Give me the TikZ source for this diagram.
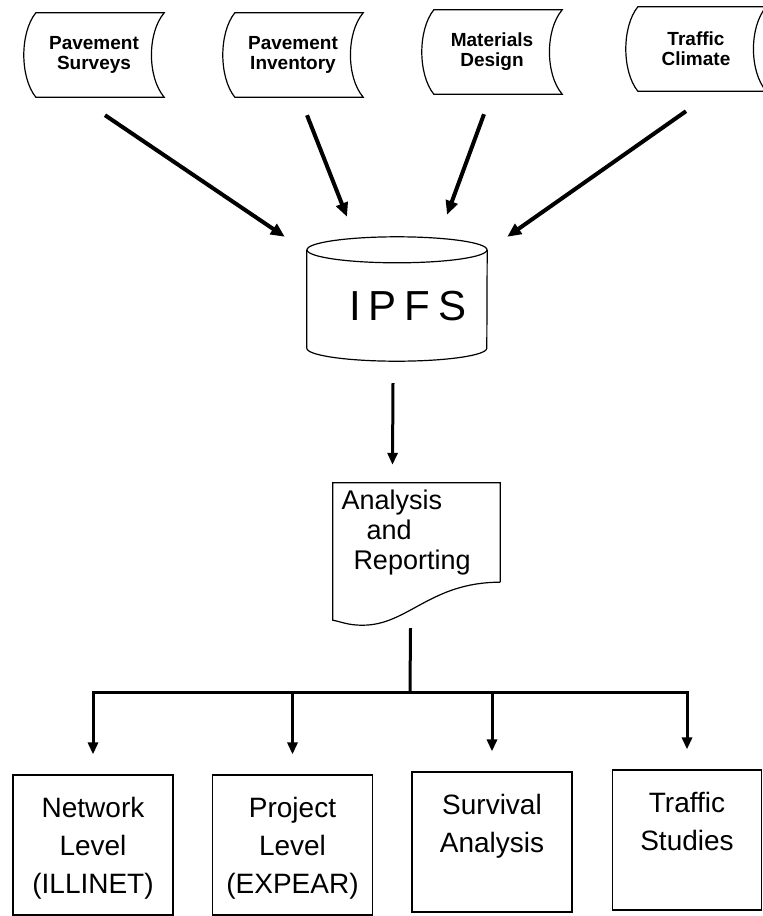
\documentclass[tikz,border=0pt]{standalone}
\usepackage{fontspec}
\setmainfont{Liberation Sans}
\usetikzlibrary{arrows.meta,calc}

\tikzset{
  outline/.style={line width=1.2pt},
  inbox/.style={minimum width=140pt, minimum height=84pt, inner sep=0pt, align=center,
    font=\bfseries\fontsize{19}{20}\selectfont},
  dbnode/.style={minimum width=180pt, minimum height=98pt, inner sep=0pt,
    text height=42pt, text depth=0pt, font=\fontsize{42}{42}\selectfont},
  docnode/.style={minimum width=167pt, minimum height=99pt, inner sep=0pt, align=left,
    text width=150pt, font=\fontsize{27}{30}\selectfont},
  outbox/.style={draw, outline, inner sep=0pt, font=\fontsize{28}{38}\selectfont},
  feed/.style={line width=4pt, -{Triangle[length=14pt,width=12pt]}},
  link/.style={line width=3pt, -{Triangle[length=12pt,width=10pt]}},
  bus/.style={line width=3pt},
  drop/.style={bus, -{Triangle[length=12pt,width=10pt]}, shorten >=20pt},
}

% outline of an input file (bulged left side, hollow right side)
\newcommand{\tapeoutline}[1]{%
  \draw[outline] ([xshift=12pt]#1.north west) -- (#1.north east)
    .. controls +(-17,20) and +(-17,-20) .. (#1.south east)
    -- ([xshift=12pt]#1.south west)
    .. controls +(-16,-20) and +(-16,20) .. ([xshift=12pt]#1.north west) -- cycle;}

% text hung from the top of an output box
\newcommand{\boxtext}[2][160pt]{\parbox[c][140pt][t]{#1}{\centering\vspace*{22pt}#2}}

\begin{document}
\begin{tikzpicture}[x=1pt, y=-1pt]
  \useasboundingbox (0,0) rectangle (763,916);

  % Input files along the top
  \foreach \name/\x/\y/\txt in {inps/94/55/{Pavement\\Surveys}, inpi/293/55/{Pavement\\Inventory},
                                inmd/492/52/{Materials\\Design}, intc/696/49/{Traffic\\Climate}} {
    \node[inbox] (\name) at (\x,\y) {\txt};
    \tapeoutline{\name}
  }

  % Data base
  \node[dbnode] (ipfs) at (397,299) {\hspace*{22pt}I\kern8pt P\kern8pt F\kern8pt S};
  \draw[outline] (ipfs.north) ellipse [x radius=90pt, y radius=13pt];
  \draw[outline] (ipfs.north west) -- (ipfs.south west)
    arc [start angle=180, end angle=360, x radius=90pt, y radius=13pt] -- (ipfs.north east);

  % Feeds into the data base
  \foreach \src/\sx/\sy/\dst/\dx/\dy in {inps/11/18/north west/-22/-13, inpi/14/18/north/-50/-33,
                                         inmd/-8/20/north/50/-35, intc/-10/20/north east/20/-13}
    \draw[feed] ($(\src.south)+(\sx,\sy)$) -- ($(ipfs.\dst)+(\dx,\dy)$);

  % Report document
  \node[docnode] (report) at (416.5,532.5) {Analysis\\\hspace*{25pt}and\\\hspace*{12pt}Reporting};
  \draw[outline] (report.south east) -- (report.north east) -- (report.north west)
    -- ($(report.south west)+(0,38)$)
    .. controls +(10,2) and +(-15,0) .. ($(report.south west)+(30,43)$)
    .. controls +(45,0) and +(-70,0) .. (report.south east);
  \draw[link] ($(ipfs.south)+(-4,35)$) -- ($(report.north)+(-24,-18)$);

  % Output programs
  \foreach \name/\x/\y/\w/\txt in {net/93/845/160pt/{Network\\Level\\(ILLINET)},
                                   prj/292.5/845/160pt/{Project\\Level\\(EXPEAR)},
                                   srv/492/842/160pt/{Survival\\Analysis},
                                   trf/687/840/149pt/{Traffic\\Studies}}
    \node[outbox] (\name) at (\x,\y) {\boxtext[\w]{\txt}};

  % Distribution bus
  \coordinate (hub) at (410,692);
  \draw[bus] ($(report.south)+(-6,46)$) -- (hub);
  \foreach \b in {net,prj,srv,trf}
    \draw[drop] (hub) -| (\b.north);
\end{tikzpicture}
\end{document}
